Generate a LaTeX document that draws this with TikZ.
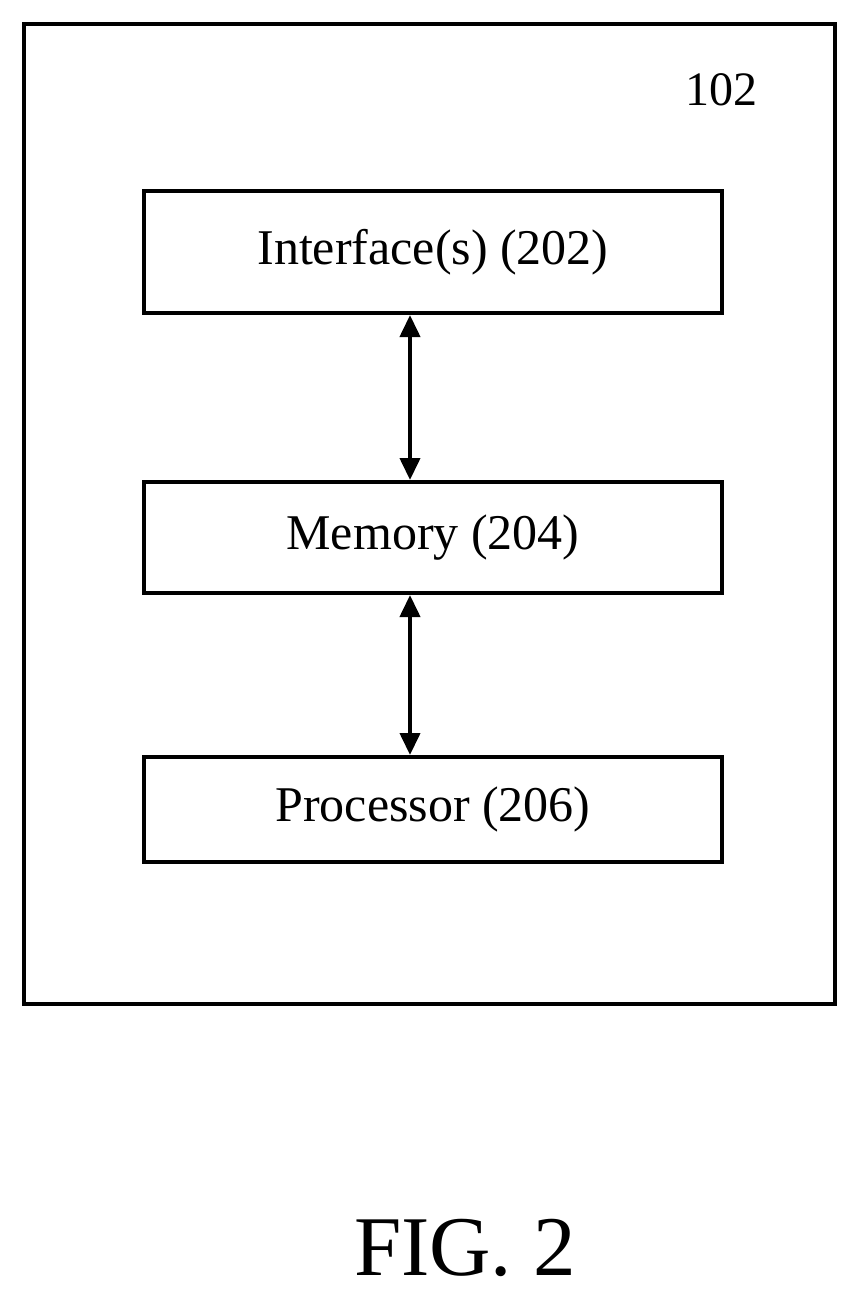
\documentclass[tikz,border=0pt]{standalone}
\usepackage{fontspec}
\setmainfont{Liberation Serif}
\usetikzlibrary{arrows.meta}
\begin{document}
\begin{tikzpicture}[x=1pt,y=-1pt,
  box/.style={draw,line width=4pt,minimum width=578pt,anchor=north west,inner sep=0pt,font=\fontsize{50}{52}\selectfont},
  arr/.style={line width=4pt,{Triangle[length=22pt,width=20pt]}-{Triangle[length=22pt,width=20pt]}}]
\useasboundingbox (0,0) rectangle (855,1294);
\node[draw,line width=4pt,minimum width=811pt,minimum height=980pt,anchor=north west,inner sep=0pt] (outer) at (22,22) {};
\node[font=\fontsize{48}{50}\selectfont] (lbl) at (721,90) {102};
\node[box,minimum height=122pt] (a) at (142,189) {Interface(s) (202)};
\node[box,minimum height=111pt] (b) at (142,480) {Memory (204)};
\node[box,minimum height=105pt] (c) at (142,755) {Processor (206)};
\draw[arr] ([xshift=-23pt]a.south) -- ([xshift=-23pt]b.north);
\draw[arr] ([xshift=-23pt]b.south) -- ([xshift=-23pt]c.north);
\node[font=\fontsize{85}{85}\selectfont] (fig) at (465,1248) {FIG. 2};
\end{tikzpicture}
\end{document}
